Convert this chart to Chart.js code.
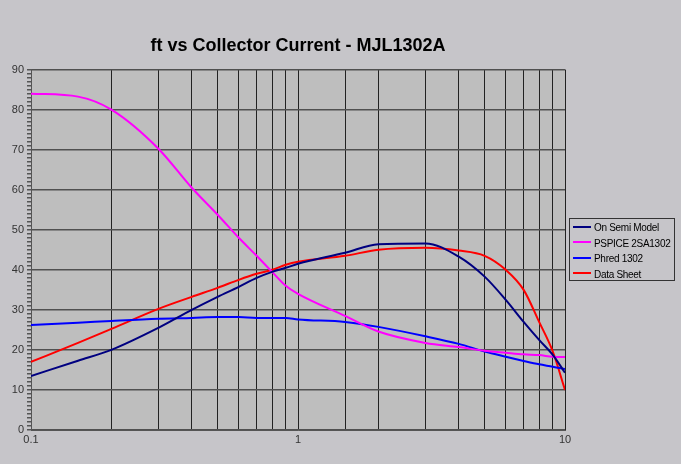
<!DOCTYPE html>
<html lang="en">
<head>
    <meta charset="UTF-8">
    <title>ft vs Collector Current - MJL1302A</title>
    <script src="https://cdn.jsdelivr.net/npm/chart.js@4.4.0/dist/chart.umd.min.js"></script>
    <style>
        html, body { margin: 0; padding: 0; background: #c6c5c9; }
        #wrap { position: relative; width: 681px; height: 464px; }
        #legend {
            position: absolute; left: 569px; top: 218px; width: 106px; height: 63px;
            border: 1px solid #333; font: 10px "Liberation Sans", Arial, sans-serif; color: #000;
            letter-spacing: -0.3px; box-sizing: border-box; padding-top: 1px; overflow: hidden;
        }
        #legend div { height: 15.5px; line-height: 15.5px; white-space: nowrap; }
        #legend span { display: inline-block; width: 18px; height: 2px; margin: 0 3px 3px 3px; vertical-align: middle; }
    </style>
</head>
<body>
<div id="wrap">
    <canvas id="chart" width="681" height="464"></canvas>
    <div id="legend"></div>
</div>
<script>
// collector current (A) - log axis
const current = [0.1, 0.15, 0.2, 0.3, 0.4, 0.5, 0.6, 0.7, 0.8, 0.9, 1, 1.5, 2, 3, 4, 5, 6, 7, 8, 9, 10];

// ft (MHz)
const onSemiModel = [13.5, 17.3, 20, 25.5, 30, 33.25, 35.75, 38, 39.5, 40.5, 41.5, 44.25, 46.4, 46.6, 43.3, 38.3, 32.5, 27, 22.5, 18.75, 14.3];
const pspice2SA1302 = [84, 83.25, 80, 70.25, 60.5, 53.75, 48, 43.5, 39.5, 36, 34, 28.5, 24.6, 21.75, 20.7, 19.8, 19.3, 18.9, 18.7, 18.3, 18.2];
const phred1302 = [26.25, 26.8, 27.25, 27.8, 28, 28.2, 28.2, 28, 28, 28, 27.6, 27, 25.75, 23.4, 21.5, 19.6, 18.3, 17.25, 16.4, 15.8, 15.2];
const dataSheet = [17, 21.75, 25.25, 30.25, 33.25, 35.5, 37.5, 39, 40, 41.25, 42, 43.5, 45, 45.5, 44.8, 43.5, 40, 35, 27, 19.6, 10];

const seriesNames = ['On Semi Model', 'PSPICE 2SA1302', 'Phred 1302', 'Data Sheet'];
const seriesColors = ['#000080', '#ff00ff', '#0000ff', '#ff0000'];
const seriesValues = [onSemiModel, pspice2SA1302, phred1302, dataSheet];

const xLabels = [0.1, 1, 10];

// grey plot area like the old spreadsheet chart
const plotBg = {
    id: 'plotBg',
    beforeDraw(chart) {
        const a = chart.chartArea, c = chart.ctx;
        c.save();
        c.fillStyle = '#bebebe';
        c.fillRect(a.left, a.top, a.right - a.left, a.bottom - a.top);
        c.restore();
    }
};

const font = { family: '"Liberation Sans", Arial, sans-serif', size: 11 };

new Chart(document.getElementById('chart'), {
    type: 'line',
    data: {
        datasets: seriesValues.map((vals, i) => ({
            label: seriesNames[i],
            data: current.map((x, j) => ({ x: x, y: vals[j] })),
            borderColor: seriesColors[i],
            borderWidth: 2,
            pointRadius: 0,
            cubicInterpolationMode: 'monotone',
            fill: false
        }))
    },
    options: {
        responsive: false,
        animation: false,
        layout: { padding: { left: 0, right: 116, top: 0, bottom: 0 } },
        plugins: {
            legend: { display: false },
            tooltip: { enabled: false },
            title: {
                display: true,
                fullSize: false,
                text: 'ft vs Collector Current - MJL1302A',
                color: '#000',
                font: { family: '"Liberation Sans", Arial, sans-serif', size: 18, weight: 'bold' },
                padding: { top: 35, bottom: 13 }
            }
        },
        scales: {
            x: {
                type: 'logarithmic',
                min: 0.1,
                max: 10,
                afterFit: s => { s.height = 34; },
                border: { color: '#555', width: 1 },
                grid: { color: '#222', lineWidth: 1, drawTicks: false },
                ticks: {
                    autoSkip: false,
                    maxRotation: 0,
                    padding: 3,
                    color: '#333',
                    font: font,
                    callback: v => xLabels.some(t => Math.abs(t - v) < 1e-9) ? String(v) : ''
                }
            },
            y: {
                min: 0,
                max: 90,
                afterFit: s => { s.width = 31; },
                border: { color: '#555', width: 1 },
                grid: {
                    color: ctx => (ctx.tick && ctx.tick.value % 10 === 0) ? '#505050' : 'rgba(0,0,0,0)',
                    lineWidth: 1.5,
                    tickColor: '#555',
                    tickLength: 4
                },
                ticks: {
                    stepSize: 1,
                    autoSkip: false,
                    padding: 3,
                    color: '#333',
                    font: font,
                    callback: v => v % 10 === 0 ? String(v) : ''
                }
            }
        }
    },
    plugins: [plotBg]
});

// legend box on the right
const legend = document.getElementById('legend');
seriesNames.forEach((name, i) => {
    const row = document.createElement('div');
    row.innerHTML = '<span style="background:' + seriesColors[i] + '"></span>' + name;
    legend.appendChild(row);
});
</script>
</body>
</html>
